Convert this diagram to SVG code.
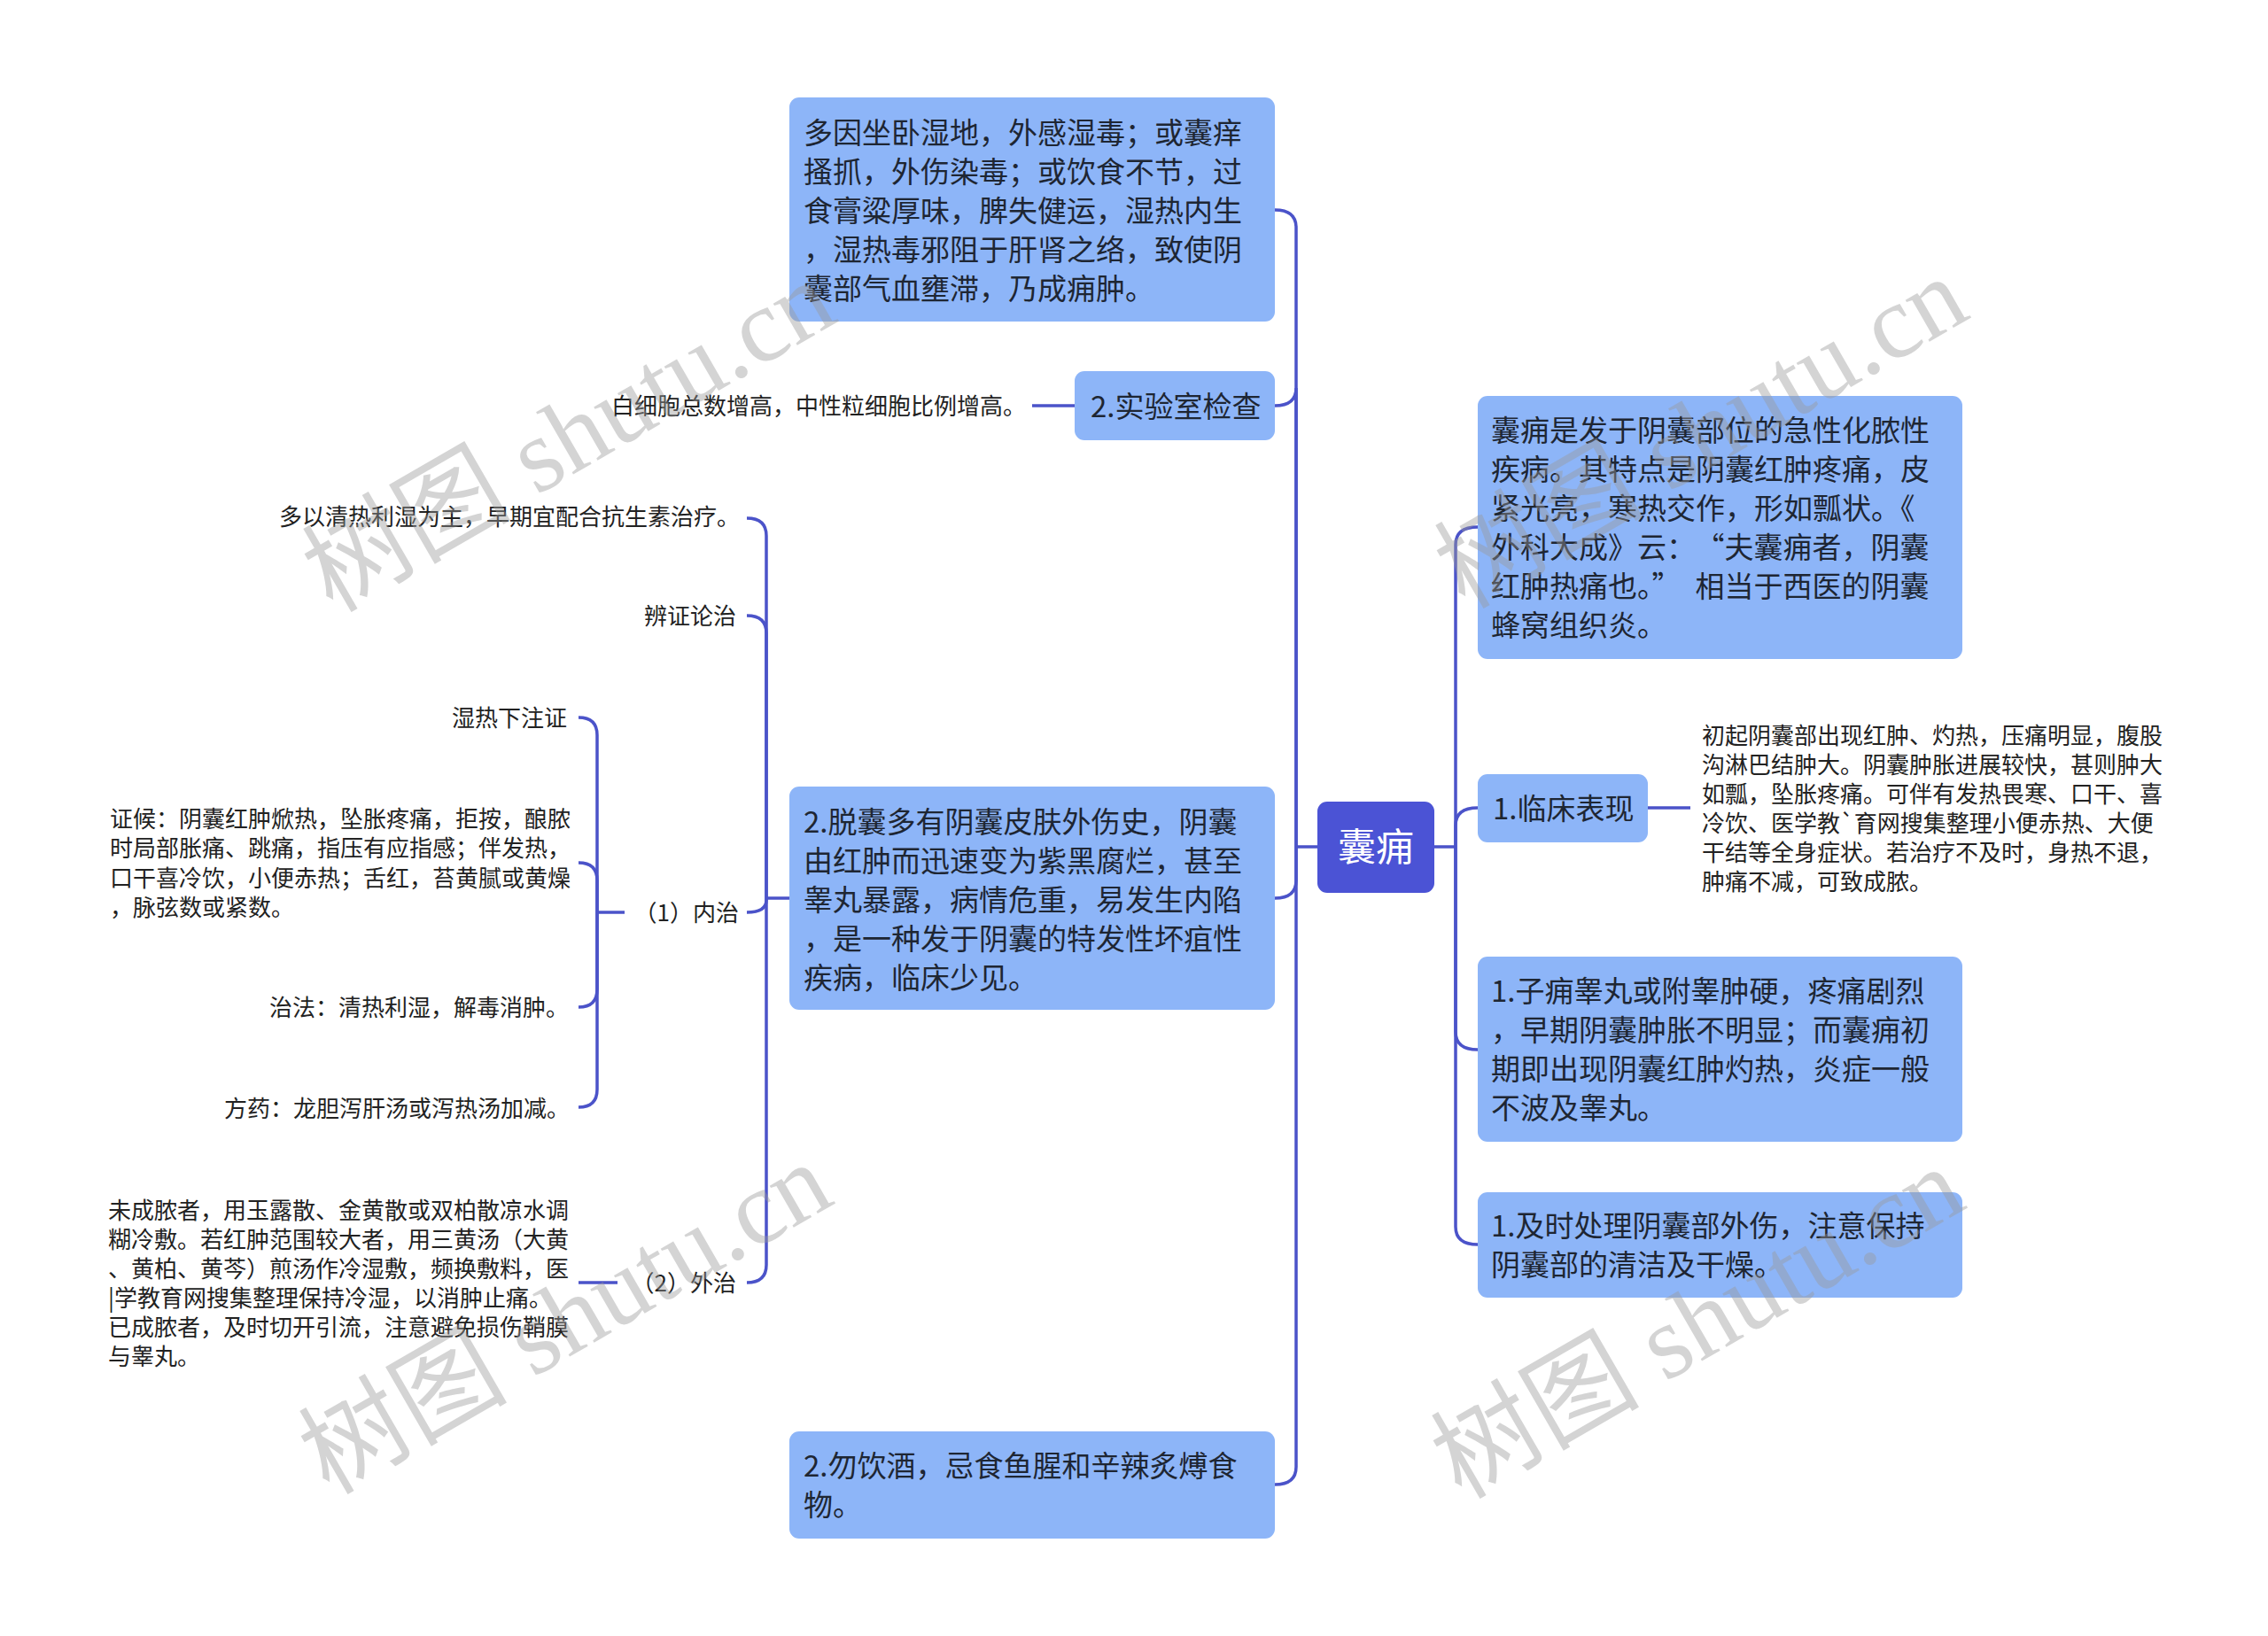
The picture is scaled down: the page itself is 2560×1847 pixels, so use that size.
<svg xmlns="http://www.w3.org/2000/svg" width="2560" height="1847" viewBox="0 0 2560 1847">
<style>
.box{fill:#8db5f8}
.root{fill:#4b53d5}
.t{font-family:"Noto Sans CJK SC","Noto Sans",sans-serif;font-size:33px;fill:#1e2633}
.s{font-family:"Noto Sans CJK SC","Noto Sans",sans-serif;font-size:26px;fill:#222}
.rt{font-family:"Noto Sans CJK SC","Noto Sans",sans-serif;font-size:43px;fill:#fff}
.c{fill:none;stroke:#4b53c9;stroke-width:3.5}
.wm{font-family:"Liberation Serif","Noto Sans CJK SC",serif;font-size:118px;fill:#9a9a9a;opacity:0.42}
</style>
<rect width="2560" height="1847" fill="#ffffff"/>
<g id="connectors">
<path class="c" d="M1487 956 H1463"/>
<path class="c" d="M1463 956 V257 Q1463 237 1439 237"/>
<path class="c" d="M1463 956 V438 Q1463 458 1439 458"/>
<path class="c" d="M1463 956 V994 Q1463 1014 1439 1014"/>
<path class="c" d="M1463 956 V1656 Q1463 1676 1439 1676"/>
<path class="c" d="M1619 956 H1643"/>
<path class="c" d="M1643 956 V615 Q1643 595 1668 595"/>
<path class="c" d="M1643 956 V932 Q1643 912 1668 912"/>
<path class="c" d="M1643 956 V1165 Q1643 1185 1668 1185"/>
<path class="c" d="M1643 956 V1385 Q1643 1405 1668 1405"/>
<path class="c" d="M1213 458 H1165"/>
<path class="c" d="M1860 912 H1908"/>
<path class="c" d="M891 1014 H865"/>
<path class="c" d="M865 1014 V605 Q865 585 843 585"/>
<path class="c" d="M865 1014 V715 Q865 695 843 695"/>
<path class="c" d="M865 1014 V1016 Q865 1030 843 1030"/>
<path class="c" d="M865 1014 V1428 Q865 1448 843 1448"/>
<path class="c" d="M705 1030 H674"/>
<path class="c" d="M674 1030 V830 Q674 810 653 810"/>
<path class="c" d="M674 1030 V994 Q674 974 653 974"/>
<path class="c" d="M674 1030 V1117 Q674 1137 653 1137"/>
<path class="c" d="M674 1030 V1230 Q674 1250 653 1250"/>
<path class="c" d="M697 1448 H653"/>
</g>
<g id="root">
<rect class="root" x="1487" y="905" width="132" height="103" rx="11"/>
<text class="rt" x="1553" y="972" text-anchor="middle">囊痈</text>
</g>
<g id="nodeA">
<rect class="box" x="891" y="110" width="548" height="253" rx="11"/>
<text class="t" x="907" y="161.5">多因坐卧湿地，外感湿毒；或囊痒</text>
<text class="t" x="907" y="205.5">搔抓，外伤染毒；或饮食不节，过</text>
<text class="t" x="907" y="249.5">食膏粱厚味，脾失健运，湿热内生</text>
<text class="t" x="907" y="293.5">，湿热毒邪阻于肝肾之络，致使阴</text>
<text class="t" x="907" y="337.5">囊部气血壅滞，乃成痈肿。</text>
</g>
<g id="nodeB">
<rect class="box" x="1213" y="419" width="226" height="78" rx="11"/>
<text class="t" x="1231" y="470.5">2.实验室检查</text>
</g>
<g id="nodeB1"><text class="s" x="690" y="468">白细胞总数增高，中性粒细胞比例增高。</text></g>
<g id="nodeC">
<rect class="box" x="891" y="888" width="548" height="252" rx="11"/>
<text class="t" x="907" y="939.5">2.脱囊多有阴囊皮肤外伤史，阴囊</text>
<text class="t" x="907" y="983.5">由红肿而迅速变为紫黑腐烂，甚至</text>
<text class="t" x="907" y="1027.5">睾丸暴露，病情危重，易发生内陷</text>
<text class="t" x="907" y="1071.5">，是一种发于阴囊的特发性坏疽性</text>
<text class="t" x="907" y="1115.5">疾病，临床少见。</text>
</g>
<g id="nodeC1"><text class="s" x="315" y="593">多以清热利湿为主，早期宜配合抗生素治疗。</text></g>
<g id="nodeC2"><text class="s" x="727" y="705">辨证论治</text></g>
<g id="nodeC3"><text class="s" x="834" y="1040" text-anchor="end">（1）内治</text></g>
<g id="nodeC31"><text class="s" x="510" y="820">湿热下注证</text></g>
<g id="nodeC32">
<text class="s" x="124" y="934">证候：阴囊红肿焮热，坠胀疼痛，拒按，酿脓</text>
<text class="s" x="124" y="967.3">时局部胀痛、跳痛，指压有应指感；伴发热，</text>
<text class="s" x="124" y="1000.6">口干喜冷饮，小便赤热；舌红，苔黄腻或黄燥</text>
<text class="s" x="124" y="1034">，脉弦数或紧数。</text>
</g>
<g id="nodeC33"><text class="s" x="304" y="1147">治法：清热利湿，解毒消肿。</text></g>
<g id="nodeC34"><text class="s" x="253" y="1261">方药：龙胆泻肝汤或泻热汤加减。</text></g>
<g id="nodeC4"><text class="s" x="831" y="1458" text-anchor="end">（2）外治</text></g>
<g id="nodeC41">
<text class="s" x="122" y="1376">未成脓者，用玉露散、金黄散或双柏散凉水调</text>
<text class="s" x="122" y="1409">糊冷敷。若红肿范围较大者，用三黄汤（大黄</text>
<text class="s" x="122" y="1442">、黄柏、黄芩）煎汤作冷湿敷，频换敷料，医</text>
<text class="s" x="122" y="1475">|学教育网搜集整理保持冷湿，以消肿止痛。</text>
<text class="s" x="122" y="1508">已成脓者，及时切开引流，注意避免损伤鞘膜</text>
<text class="s" x="122" y="1541">与睾丸。</text>
</g>
<g id="nodeD">
<rect class="box" x="891" y="1616" width="548" height="121" rx="11"/>
<text class="t" x="907" y="1666.5">2.勿饮酒，忌食鱼腥和辛辣炙煿食</text>
<text class="t" x="907" y="1710.5">物。</text>
</g>
<g id="nodeR1">
<rect class="box" x="1668" y="447" width="547" height="297" rx="11"/>
<text class="t" x="1683" y="497.5">囊痈是发于阴囊部位的急性化脓性</text>
<text class="t" x="1683" y="541.5">疾病。其特点是阴囊红肿疼痛，皮</text>
<text class="t" x="1683" y="585.5">紧光亮，寒热交作，形如瓢状。《</text>
<text class="t" x="1683" y="629.5">外科大成》云：<tspan dx="16">“夫囊痈者，阴囊</tspan></text>
<text class="t" x="1683" y="673.5">红肿热痛也。”<tspan dx="16">相当于西医的阴囊</tspan></text>
<text class="t" x="1683" y="717.5">蜂窝组织炎。</text>
</g>
<g id="nodeR2">
<rect class="box" x="1668" y="874" width="192" height="77" rx="11"/>
<text class="t" x="1685" y="924.5">1.临床表现</text>
</g>
<g id="nodeR21">
<text class="s" x="1921" y="839.5">初起阴囊部出现红肿、灼热，压痛明显，腹股</text>
<text class="s" x="1921" y="872.5">沟淋巴结肿大。阴囊肿胀进展较快，甚则肿大</text>
<text class="s" x="1921" y="905.5">如瓢，坠胀疼痛。可伴有发热畏寒、口干、喜</text>
<text class="s" x="1921" y="938.5">冷饮、医学教`育网搜集整理小便赤热、大便</text>
<text class="s" x="1921" y="971.5">干结等全身症状。若治疗不及时，身热不退，</text>
<text class="s" x="1921" y="1004.5">肿痛不减，可致成脓。</text>
</g>
<g id="nodeR3">
<rect class="box" x="1668" y="1080" width="547" height="209" rx="11"/>
<text class="t" x="1683" y="1130.5">1.子痈睾丸或附睾肿硬，疼痛剧烈</text>
<text class="t" x="1683" y="1174.5">，早期阴囊肿胀不明显；而囊痈初</text>
<text class="t" x="1683" y="1218.5">期即出现阴囊红肿灼热，炎症一般</text>
<text class="t" x="1683" y="1262.5">不波及睾丸。</text>
</g>
<g id="nodeR4">
<rect class="box" x="1668" y="1346" width="547" height="119" rx="11"/>
<text class="t" x="1683" y="1395.5">1.及时处理阴囊部外伤，注意保持</text>
<text class="t" x="1683" y="1439.5">阴囊部的清洁及干燥。</text>
</g>
<g id="watermarks">
<text class="wm" x="662" y="527" text-anchor="middle" transform="rotate(-30 662 527)">树图 shutu.cn</text>
<text class="wm" x="1940" y="523" text-anchor="middle" transform="rotate(-30 1940 523)">树图 shutu.cn</text>
<text class="wm" x="658" y="1523" text-anchor="middle" transform="rotate(-30 658 1523)">树图 shutu.cn</text>
<text class="wm" x="1936" y="1528" text-anchor="middle" transform="rotate(-30 1936 1528)">树图 shutu.cn</text>
</g>
</svg>
